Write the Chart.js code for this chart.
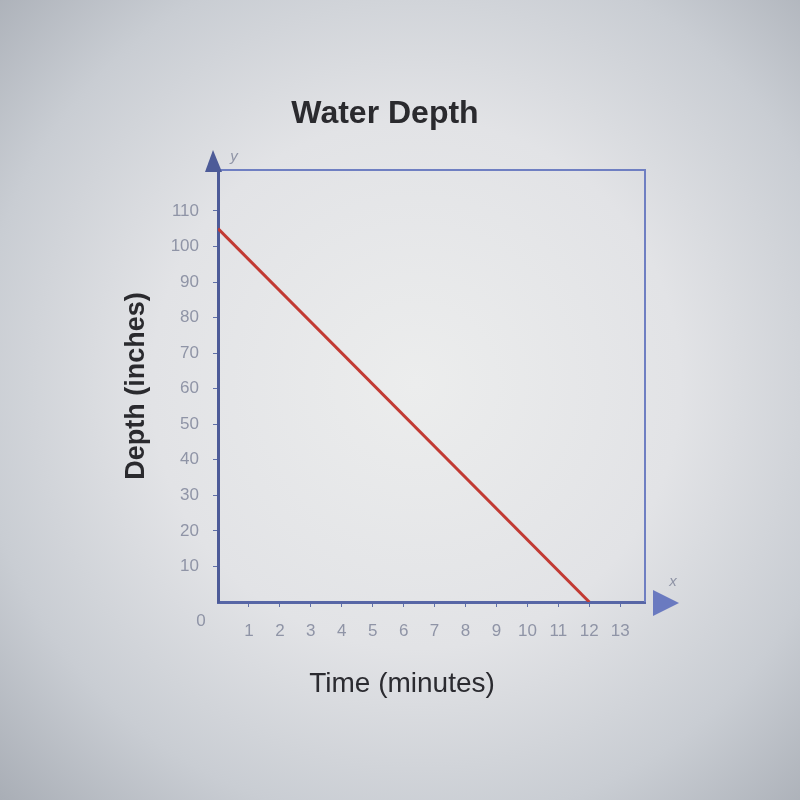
<!DOCTYPE html>
<html>
<head>
<meta charset="utf-8">
<script src="https://cdn.jsdelivr.net/npm/chart.js@4.4.1/dist/chart.umd.min.js"></script>
<style>
  html, body { margin: 0; padding: 0; }
  body {
    width: 800px; height: 800px; overflow: hidden;
    background: radial-gradient(ellipse at 52% 48%, #eceded 0%, #e2e3e6 45%, #c9cdd3 75%, #a9aeb6 100%);
  }
  #wrap { width: 800px; height: 800px; }
</style>
</head>
<body>
<div id="wrap"><canvas id="depthChart"></canvas></div>
<script>
// Data
const timeMinutes = [0, 12];
const depthInches = [105, 0];
const yTickValues = [10, 20, 30, 40, 50, 60, 70, 80, 90, 100, 110];
const xTickValues = [1, 2, 3, 4, 5, 6, 7, 8, 9, 10, 11, 12, 13];

const axisColor = '#4d5b98';
const frameColor = '#6f7fc2';
const labelColor = '#8f94a6';

// arrows, frame, origin label and x title
const decorations = {
    id: 'decorations',
    afterDraw(chart) {
        const c = chart.ctx;
        const a = chart.chartArea;
        c.save();

        c.strokeStyle = frameColor;
        c.lineWidth = 2;
        c.beginPath();
        c.moveTo(a.left, a.top);
        c.lineTo(a.right, a.top);
        c.lineTo(a.right, a.bottom);
        c.stroke();

        c.fillStyle = axisColor;
        c.beginPath();
        c.moveTo(a.left - 5, a.top - 20);
        c.lineTo(a.left - 13, a.top + 2);
        c.lineTo(a.left + 4, a.top + 2);
        c.closePath();
        c.fill();

        c.fillStyle = '#6a7ac0';
        c.beginPath();
        c.moveTo(a.right + 34, a.bottom + 1);
        c.lineTo(a.right + 8, a.bottom - 12);
        c.lineTo(a.right + 8, a.bottom + 14);
        c.closePath();
        c.fill();

        c.fillStyle = labelColor;
        c.font = 'italic 15px "Liberation Sans", Arial, sans-serif';
        c.textAlign = 'center';
        c.textBaseline = 'middle';
        c.fillText('y', a.left + 16, a.top - 13);
        c.fillText('x', a.right + 28, a.bottom - 20);

        c.font = '17px "Liberation Sans", Arial, sans-serif';
        c.fillText('0', a.left - 17, a.bottom + 19);

        c.fillStyle = '#2b2b30';
        c.font = '28px "Liberation Sans", Arial, sans-serif';
        c.fillText('Time (minutes)', 402, 684);
        c.restore();
    }
};

const ctx = document.getElementById('depthChart').getContext('2d');

new Chart(ctx, {
    type: 'line',
    data: {
        datasets: [{
            label: 'Depth',
            data: timeMinutes.map((t, i) => ({ x: t, y: depthInches[i] })),
            borderColor: '#c23a33',
            borderWidth: 3,
            pointRadius: 0,
            tension: 0
        }]
    },
    options: {
        responsive: true,
        maintainAspectRatio: false,
        animation: false,
        layout: {
            padding: { left: 125, right: 155, top: 0, bottom: 0 }
        },
        plugins: {
            legend: { display: false },
            tooltip: { enabled: false },
            title: {
                display: true,
                text: 'Water Depth',
                color: '#2a2a2e',
                font: { family: '"Liberation Sans", Arial, sans-serif', size: 32, weight: 'bold', lineHeight: 1.2 },
                padding: { top: 95, bottom: 36.6 }
            }
        },
        scales: {
            x: {
                type: 'linear',
                min: 0,
                max: 13.8,
                afterBuildTicks: scale => { scale.ticks = xTickValues.map(v => ({ value: v })); },
                afterFit: scale => { scale.height = 198; },
                border: { color: '#5766a6', width: 3 },
                grid: { drawOnChartArea: false, tickLength: 5, color: '#6070a8' },
                ticks: {
                    color: labelColor,
                    padding: 14,
                    maxRotation: 0,
                    autoSkip: false,
                    font: { family: '"Liberation Sans", Arial, sans-serif', size: 17 }
                }
            },
            y: {
                min: 0,
                max: 121.5,
                afterBuildTicks: scale => { scale.ticks = yTickValues.map(v => ({ value: v })); },
                afterFit: scale => { scale.width = 93; },
                border: { color: axisColor, width: 3 },
                grid: { drawOnChartArea: false, tickLength: 5, color: '#6070a8' },
                ticks: {
                    color: labelColor,
                    padding: 14,
                    autoSkip: false,
                    font: { family: '"Liberation Sans", Arial, sans-serif', size: 17 }
                },
                title: {
                    display: true,
                    text: 'Depth (inches)',
                    color: '#2a2a2e',
                    font: { family: '"Liberation Sans", Arial, sans-serif', size: 27, weight: 'bold', lineHeight: 0.85 },
                    padding: { top: 0, bottom: 0 }
                }
            }
        }
    },
    plugins: [decorations]
});
</script>
</body>
</html>
